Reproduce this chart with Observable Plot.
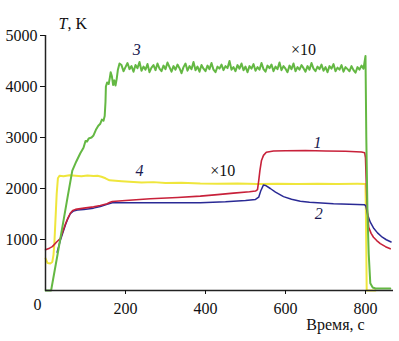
<!DOCTYPE html>
<html><head><meta charset="utf-8">
<script src="https://cdn.jsdelivr.net/npm/d3@7"></script>
<script src="https://cdn.jsdelivr.net/npm/@observablehq/plot@0.6"></script>
<style>body{margin:0;background:#fff}</style>
</head><body><div id="chart"></div>
<script>
const xTicks = [200, 400, 600, 800];
const yTicks = [1000, 2000, 3000, 4000, 5000];

const red = [[0,800],[10,830],[17,860],[29,960],[37,1020],[43,1150],[50,1310],[56,1420],[62,1515],[68,1570],[75,1590],[96,1615],[120,1640],[137,1665],[154,1700],[160,1725],[167,1745],[200,1765],[262,1800],[330,1825],[387,1850],[430,1880],[470,1910],[510,1935],[525,1950],[530,1980],[533,2150],[536,2350],[540,2550],[545,2650],[552,2710],[570,2735],[600,2740],[650,2745],[700,2735],[750,2730],[790,2715],[798,2700],[800,2600],[802,2100],[804,1630],[808,1240],[814,1120],[820,1045],[828,980],[837,920],[850,860],[862,820]];

const blue = [[29,750],[37,980],[45,1170],[50,1290],[56,1410],[62,1505],[70,1560],[80,1580],[96,1590],[120,1615],[137,1645],[154,1690],[167,1720],[200,1720],[300,1720],[387,1720],[450,1740],[500,1765],[525,1785],[533,1830],[538,1950],[545,2070],[550,2060],[562,2000],[575,1930],[595,1840],[615,1790],[637,1750],[660,1730],[680,1720],[720,1700],[760,1690],[798,1680],[801,1650],[806,1470],[812,1340],[821,1215],[830,1130],[842,1045],[852,995],[864,950]];

const yellow = [[0,630],[5,540],[12,530],[17,560],[20,700],[22,900],[25,1400],[28,1900],[31,2200],[35,2250],[45,2240],[60,2260],[75,2250],[90,2240],[105,2255],[120,2245],[130,2250],[140,2230],[150,2200],[160,2160],[175,2150],[190,2140],[210,2130],[240,2120],[270,2125],[300,2110],[340,2115],[387,2100],[430,2095],[480,2100],[530,2090],[580,2095],[630,2090],[680,2095],[730,2090],[780,2092],[800,2090],[801,1500],[802,800],[803,0],[825,0]];

const green = [[0,0],[14,0],[30,700],[45,1370],[55,1820],[67,2350],[77,2530],[87,2690],[95,2800],[100,2930],[104,2920],[108,2980],[115,3000],[120,3040],[126,3150],[132,3230],[137,3270],[141,3350],[145,3330],[148,3420],[150,3700],[151,4000],[154,4080],[158,4050],[161,4180],[163,4280],[166,4200],[169,4030],[172,4120],[175,4020],[178,4150],[181,4330],[185,4450],
[190,4420],[195,4300],[200,4380],[205,4460],[210,4340],[215,4400],[220,4290],[225,4420],[230,4360],[235,4480],[240,4310],[245,4390],[250,4330],[255,4440],[260,4280],[265,4370],[270,4420],[275,4320],[280,4450],[285,4350],[290,4300],[295,4410],[300,4340],[305,4470],[310,4380],[315,4290],[320,4400],[325,4330],[330,4430],[335,4360],[340,4260],[345,4380],[350,4450],[355,4310],[360,4400],[365,4340],[370,4480],[375,4320],[380,4390],[385,4290],[390,4420],[395,4350],[400,4300],[405,4410],[410,4340],[415,4460],[420,4330],[425,4280],[430,4390],[435,4350],[440,4430],[445,4320],[450,4400],[455,4360],[460,4500],[465,4330],[470,4380],[475,4300],[480,4420],[485,4350],[490,4450],[495,4320],[500,4390],[505,4280],[510,4400],[515,4350],[520,4440],[525,4310],[530,4380],[535,4330],[540,4460],[545,4340],[550,4290],[555,4410],[560,4360],[565,4430],[570,4300],[575,4390],[580,4340],[585,4470],[590,4320],[595,4400],[600,4350],[605,4280],[610,4410],[615,4340],[620,4450],[625,4300],[630,4380],[635,4330],[640,4420],[645,4360],[650,4290],[655,4400],[660,4330],[665,4460],[670,4350],[675,4300],[680,4390],[685,4340],[690,4430],[695,4310],[700,4380],[705,4280],[710,4400],[715,4350],[720,4440],[725,4300],[730,4370],[735,4330],[740,4420],[745,4290],[750,4380],[755,4340],[760,4300],[765,4400],[770,4320],[775,4270],[780,4380],[785,4330],[790,4410],[795,4350],[800,4600],[802,3000],[805,1500],[808,725],[812,140],[818,60],[825,40],[862,40]];

const labels = [
  {t:228, v:4725, s:"3", italic:true},
  {t:680, v:2900, s:"1", italic:true},
  {t:683, v:1510, s:"2", italic:true},
  {t:235, v:2350, s:"4", italic:true},
  {t:645, v:4725, s:"×10", italic:false},
  {t:443, v:2340, s:"×10", italic:false}
];

const font = "'Times New Roman', Tinos, 'Liberation Serif', 'DejaVu Serif', serif";
const line = (d, c, w) => Plot.line(d, {x: d => d[0], y: d => d[1], stroke: c, strokeWidth: w});

const chart = Plot.plot({
  width: 399, height: 341,
  marginTop: 35, marginLeft: 45, marginRight: 6, marginBottom: 51,
  style: {fontSize: "16px", color: "#111", background: "#fff"},
  x: {domain: [0, 870]},
  y: {domain: [0, 5000]},
  marks: [
    line(yellow, "#efe63c", 2),
    line(blue, "#2a2a95", 1.5),
    line(red, "#c8213a", 1.6),
    line(green, "#64b843", 2),
    Plot.ruleX([0], {stroke: "#222", strokeWidth: 1.5}),
    Plot.ruleY([0], {stroke: "#222", strokeWidth: 1.5}),
    Plot.axisY({ticks: yTicks, tickSize: 5, tickPadding: 3, label: null, fontSize: 16, tickFormat: d => String(d)}),
    Plot.axisX({ticks: xTicks, tickSize: 4, tickPadding: 8, label: null, fontSize: 16, tickFormat: d => String(d)}),
    Plot.text([0], {x: 0, y: 0, text: () => "0", dx: -8, dy: 14, fontSize: 16}),
    Plot.text(labels.filter(d => d.italic), {x: "t", y: "v", text: "s", fontStyle: "italic", fontSize: 16, fill: "#1a1a50"}),
    Plot.text(labels.filter(d => !d.italic), {x: "t", y: "v", text: "s", fontSize: 16, fill: "#111"}),
    Plot.text(["T"], {frameAnchor: "top-left", dx: 13, dy: -18, text: d => d, textAnchor: "start", fontStyle: "italic", fontSize: 16}),
    Plot.text([", K"], {frameAnchor: "top-left", dx: 22, dy: -18, text: d => d, textAnchor: "start", fontSize: 16}),
    Plot.text(["Время, с"], {frameAnchor: "bottom-right", dx: -58, dy: 39, text: d => d, textAnchor: "middle", fontSize: 16})
  ]
});
chart.setAttribute("font-family", font);
d3.select(chart).selectAll("g").attr("font-family", null);
d3.select(chart).selectAll("text").attr("font-family", null);
chart.style.fontFamily = font;
document.getElementById("chart").appendChild(chart);
</script></body></html>
